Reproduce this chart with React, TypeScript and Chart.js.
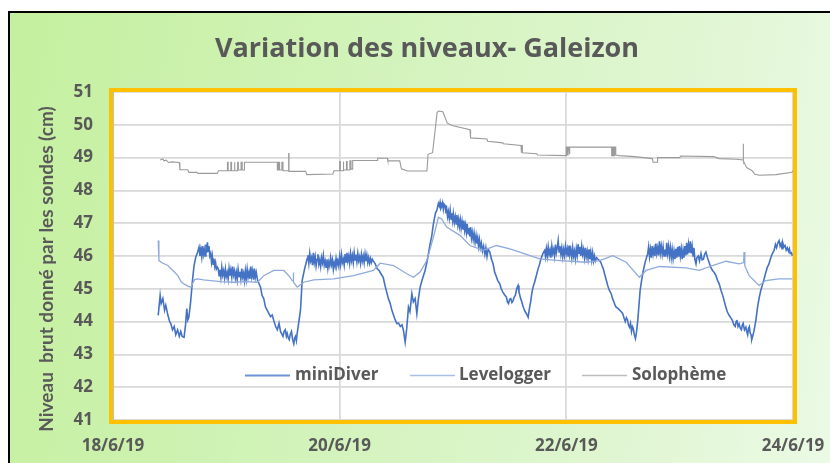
import React, { useEffect, useRef } from 'react';
import { Chart, registerables } from 'chart.js';

Chart.register(...registerables);

const chartTitle = 'Variation des niveaux- Galeizon';
const yAxisTitle = 'Niveau  brut donné par les sondes (cm)';
const dateLabels = ['18/6/19', '20/6/19', '22/6/19', '24/6/19'];
const seriesNames = ['miniDiver', 'Levelogger', 'Solophème'];
const yMin = 41;
const yMax = 51;

// [day since 18/6/19 00:00, level in cm]
const miniDiver: [number, number][] = [
  [0.399, 44.19], [0.416, 44.8], [0.425, 44.55], [0.44, 44.7], [0.455, 44.35], [0.466, 44.5], [0.484, 44.2],
  [0.5, 44.0], [0.51, 43.94], [0.525, 43.75], [0.54, 43.85], [0.554, 43.6], [0.57, 43.75], [0.585, 43.55],
  [0.598, 43.7], [0.61, 43.55], [0.627, 43.52], [0.64, 43.9], [0.651, 44.4], [0.66, 44.05], [0.669, 44.13],
  [0.685, 44.6], [0.701, 45.25], [0.715, 45.7], [0.73, 45.96], [0.745, 46.1], [0.759, 46.27], [0.767, 46.0],
  [0.775, 46.2], [0.783, 45.98], [0.79, 46.3], [0.798, 46.05], [0.805, 46.2], [0.812, 46.0], [0.82, 46.35],
  [0.827, 46.1], [0.833, 46.42], [0.84, 46.15], [0.847, 46.3], [0.854, 46.0], [0.862, 46.08], [0.869, 45.82],
  [0.876, 46.0], [0.883, 45.75], [0.89, 45.92], [0.898, 45.68], [0.905, 45.8], [0.912, 45.6], [0.921, 45.66],
  [0.928, 45.62], [0.936, 45.4], [0.944, 45.58], [0.952, 45.35], [0.96, 45.66], [0.968, 45.42], [0.976, 45.55],
  [0.984, 45.33], [0.992, 45.6], [1.0, 45.38], [1.008, 45.5], [1.016, 45.3], [1.024, 45.62], [1.032, 45.4],
  [1.04, 45.58], [1.048, 45.36], [1.056, 45.68], [1.064, 45.42], [1.072, 45.55], [1.08, 45.32], [1.088, 45.5],
  [1.096, 45.28], [1.104, 45.6], [1.112, 45.38], [1.12, 45.52], [1.128, 45.3], [1.136, 45.62], [1.144, 45.36],
  [1.152, 45.48], [1.16, 45.25], [1.168, 45.55], [1.176, 45.3], [1.184, 45.6], [1.192, 45.35], [1.2, 45.5],
  [1.208, 45.3], [1.216, 45.68], [1.224, 45.38], [1.232, 45.55], [1.24, 45.28], [1.248, 45.62], [1.256, 45.35],
  [1.264, 45.5], [1.276, 45.25], [1.302, 45.05], [1.315, 44.8], [1.33, 44.7], [1.345, 44.45], [1.361, 44.34],
  [1.375, 44.25], [1.39, 44.15], [1.405, 44.2], [1.419, 44.03], [1.435, 43.85], [1.45, 43.75], [1.465, 43.95],
  [1.478, 43.7], [1.49, 43.62], [1.5, 43.55], [1.51, 43.7], [1.52, 43.75], [1.53, 43.55], [1.537, 43.64],
  [1.547, 43.5], [1.555, 43.45], [1.565, 43.62], [1.575, 43.7], [1.585, 43.45], [1.595, 43.32], [1.603, 43.5],
  [1.61, 43.55], [1.618, 43.42], [1.625, 43.64], [1.64, 44.0], [1.654, 44.34], [1.669, 45.25], [1.69, 45.6],
  [1.705, 45.8], [1.713, 45.92], [1.72, 46.02], [1.728, 45.78], [1.736, 46.08], [1.744, 45.85], [1.752, 45.95],
  [1.76, 45.72], [1.768, 46.1], [1.776, 45.8], [1.784, 45.98], [1.792, 45.7], [1.8, 45.9], [1.808, 46.05],
  [1.816, 45.75], [1.824, 45.88], [1.832, 45.68], [1.84, 45.95], [1.848, 45.8], [1.856, 46.02], [1.864, 45.72],
  [1.872, 45.85], [1.88, 45.66], [1.888, 45.9], [1.896, 45.62], [1.904, 45.82], [1.912, 45.7], [1.92, 45.95],
  [1.928, 45.74], [1.936, 45.88], [1.944, 45.6], [1.952, 45.8], [1.96, 45.68], [1.968, 45.92], [1.976, 45.72],
  [1.984, 45.85], [1.992, 45.7], [2.0, 45.98], [2.008, 45.75], [2.016, 46.04], [2.024, 45.8], [2.032, 45.9],
  [2.04, 45.72], [2.048, 46.06], [2.056, 45.82], [2.064, 46.1], [2.072, 45.85], [2.08, 46.0], [2.088, 45.78],
  [2.096, 46.08], [2.104, 45.86], [2.112, 46.02], [2.12, 45.8], [2.128, 46.1], [2.136, 45.88], [2.144, 46.04],
  [2.152, 45.82], [2.16, 46.08], [2.168, 45.86], [2.176, 45.98], [2.184, 45.78], [2.192, 46.05], [2.2, 45.85],
  [2.208, 46.0], [2.216, 45.8], [2.224, 46.06], [2.232, 45.84], [2.24, 46.02], [2.248, 45.8], [2.256, 45.95],
  [2.264, 45.78], [2.272, 45.92], [2.28, 45.8], [2.288, 45.9], [2.296, 45.85], [2.314, 45.76], [2.33, 45.62],
  [2.35, 45.55], [2.365, 45.45], [2.384, 45.35], [2.4, 45.1], [2.415, 44.9], [2.43, 44.7], [2.446, 44.55],
  [2.46, 44.35], [2.475, 44.2], [2.49, 44.05], [2.505, 43.94], [2.52, 43.95], [2.535, 43.85], [2.55, 43.9],
  [2.563, 43.73], [2.578, 43.37], [2.592, 43.8], [2.607, 44.44], [2.62, 44.3], [2.637, 44.85], [2.65, 44.6],
  [2.666, 44.7], [2.681, 44.24], [2.695, 44.7], [2.71, 45.05], [2.73, 45.3], [2.754, 45.56], [2.775, 45.9],
  [2.798, 46.37], [2.812, 46.6], [2.827, 46.98], [2.845, 47.3], [2.857, 47.39], [2.871, 47.6], [2.879, 47.52],
  [2.886, 47.64], [2.893, 47.45], [2.9, 47.5], [2.908, 47.62], [2.915, 47.42], [2.922, 47.58], [2.93, 47.54],
  [2.938, 47.3], [2.945, 47.42], [2.952, 47.2], [2.959, 47.35], [2.967, 47.15], [2.975, 47.4], [2.983, 47.12],
  [2.99, 47.3], [2.997, 47.08], [3.003, 47.29], [3.012, 47.02], [3.02, 47.2], [3.028, 46.98], [3.035, 47.25],
  [3.043, 46.95], [3.05, 47.12], [3.057, 46.9], [3.065, 47.1], [3.072, 46.85], [3.08, 47.05], [3.088, 46.8],
  [3.095, 47.08], [3.103, 46.78], [3.11, 46.95], [3.118, 46.72], [3.125, 46.98], [3.133, 46.68], [3.14, 46.85],
  [3.148, 46.6], [3.155, 46.88], [3.163, 46.55], [3.17, 46.72], [3.178, 46.5], [3.186, 46.7], [3.195, 46.42],
  [3.203, 46.62], [3.21, 46.38], [3.218, 46.55], [3.225, 46.3], [3.233, 46.5], [3.241, 46.25], [3.25, 46.4],
  [3.26, 46.15], [3.27, 46.3], [3.281, 46.05], [3.29, 46.25], [3.3, 45.98], [3.31, 46.2], [3.325, 46.12],
  [3.34, 45.9], [3.354, 45.76], [3.368, 45.5], [3.38, 45.4], [3.395, 45.25], [3.413, 45.15], [3.425, 45.0],
  [3.44, 44.9], [3.455, 44.82], [3.472, 44.74], [3.48, 44.6], [3.49, 44.55], [3.5, 44.68], [3.51, 44.7],
  [3.52, 44.58], [3.53, 44.64], [3.54, 44.75], [3.55, 44.8], [3.562, 45.0], [3.574, 45.1], [3.582, 44.9],
  [3.59, 44.8], [3.597, 44.7], [3.604, 44.64], [3.615, 44.5], [3.625, 44.4], [3.637, 44.3], [3.648, 44.24],
  [3.656, 44.18], [3.663, 44.13], [3.672, 44.35], [3.685, 44.6], [3.695, 44.85], [3.706, 45.05], [3.72, 45.2],
  [3.735, 45.4], [3.75, 45.6], [3.765, 45.76], [3.775, 45.9], [3.785, 46.0], [3.797, 46.1], [3.809, 46.17],
  [3.816, 45.98], [3.824, 46.22], [3.832, 46.0], [3.84, 46.28], [3.848, 46.05], [3.856, 46.18], [3.864, 45.95],
  [3.872, 46.3], [3.88, 46.08], [3.888, 46.2], [3.896, 46.0], [3.904, 46.35], [3.912, 46.1], [3.92, 46.25],
  [3.928, 46.47], [3.936, 46.12], [3.944, 46.3], [3.952, 46.05], [3.96, 46.25], [3.968, 45.98], [3.976, 46.2],
  [3.984, 46.02], [3.992, 46.3], [4.0, 46.08], [4.008, 46.22], [4.016, 45.98], [4.024, 46.32], [4.032, 46.05],
  [4.04, 46.18], [4.048, 45.95], [4.056, 46.25], [4.064, 46.0], [4.072, 46.15], [4.08, 45.92], [4.088, 46.22],
  [4.096, 46.02], [4.104, 46.36], [4.112, 46.08], [4.12, 46.28], [4.128, 46.0], [4.136, 46.3], [4.144, 46.05],
  [4.152, 46.2], [4.16, 45.95], [4.168, 46.25], [4.176, 45.98], [4.184, 46.15], [4.192, 45.92], [4.2, 46.2],
  [4.208, 45.9], [4.216, 46.12], [4.224, 45.88], [4.232, 46.1], [4.24, 45.85], [4.248, 46.0], [4.256, 45.85],
  [4.267, 45.95], [4.28, 45.9], [4.293, 45.86], [4.305, 45.8], [4.315, 45.7], [4.327, 45.6], [4.337, 45.46],
  [4.35, 45.3], [4.365, 45.1], [4.38, 44.95], [4.396, 44.85], [4.408, 44.7], [4.42, 44.6], [4.43, 44.5],
  [4.44, 44.44], [4.455, 44.4], [4.47, 44.35], [4.485, 44.3], [4.498, 44.24], [4.51, 44.1], [4.52, 44.0],
  [4.53, 44.12], [4.54, 44.05], [4.548, 43.9], [4.557, 43.83], [4.566, 43.95], [4.575, 43.7], [4.583, 43.85],
  [4.59, 43.8], [4.6, 43.6], [4.61, 43.48], [4.62, 43.7], [4.63, 44.03], [4.641, 44.5], [4.651, 44.95],
  [4.662, 45.2], [4.674, 45.46], [4.685, 45.65], [4.695, 45.8], [4.707, 45.95], [4.718, 46.07], [4.726, 46.28],
  [4.734, 45.98], [4.742, 46.2], [4.75, 45.95], [4.758, 46.3], [4.766, 46.05], [4.774, 46.22], [4.782, 46.0],
  [4.79, 46.38], [4.798, 46.08], [4.806, 46.25], [4.814, 46.02], [4.822, 46.45], [4.83, 46.1], [4.838, 46.3],
  [4.846, 46.05], [4.854, 46.28], [4.862, 46.0], [4.87, 46.2], [4.878, 45.98], [4.886, 46.4], [4.894, 46.08],
  [4.902, 46.3], [4.91, 46.0], [4.918, 46.25], [4.926, 45.95], [4.934, 46.2], [4.942, 45.92], [4.95, 46.15],
  [4.958, 45.9], [4.966, 46.22], [4.974, 45.95], [4.982, 46.28], [4.99, 45.98], [4.998, 46.3], [5.006, 46.0],
  [5.014, 46.22], [5.022, 45.9], [5.03, 46.18], [5.038, 45.95], [5.046, 46.3], [5.054, 46.02], [5.062, 46.4],
  [5.07, 46.05], [5.078, 46.35], [5.086, 46.1], [5.094, 46.45], [5.102, 46.08], [5.11, 46.3], [5.118, 46.0],
  [5.126, 46.25], [5.134, 45.9], [5.144, 45.76], [5.152, 45.95], [5.165, 46.0], [5.175, 45.85], [5.188, 46.07],
  [5.198, 45.88], [5.21, 45.9], [5.22, 46.05], [5.232, 46.12], [5.245, 45.95], [5.26, 45.8], [5.275, 45.65],
  [5.29, 45.56], [5.305, 45.5], [5.32, 45.4], [5.335, 45.25], [5.349, 45.15], [5.365, 44.95], [5.38, 44.8],
  [5.395, 44.6], [5.408, 44.44], [5.42, 44.3], [5.435, 44.2], [5.45, 44.12], [5.466, 44.03], [5.478, 43.9],
  [5.49, 43.85], [5.498, 44.0], [5.505, 44.05], [5.515, 43.85], [5.525, 43.93], [5.535, 43.8], [5.545, 43.75],
  [5.553, 43.9], [5.56, 43.95], [5.572, 43.75], [5.584, 43.83], [5.592, 43.7], [5.6, 43.6], [5.608, 43.8],
  [5.615, 43.85], [5.622, 43.65], [5.63, 43.6], [5.636, 43.45], [5.642, 43.52], [5.655, 43.7], [5.672, 44.03],
  [5.68, 44.25], [5.69, 44.5], [5.703, 44.75], [5.716, 44.95], [5.73, 45.12], [5.745, 45.3], [5.76, 45.5],
  [5.774, 45.66], [5.787, 45.75], [5.8, 45.9], [5.815, 46.05], [5.833, 46.17], [5.845, 46.35], [5.855, 46.25],
  [5.866, 46.4], [5.877, 46.47], [5.886, 46.3], [5.895, 46.38], [5.903, 46.22], [5.91, 46.4], [5.92, 46.28],
  [5.93, 46.32], [5.94, 46.18], [5.95, 46.25], [5.96, 46.15], [5.968, 46.22], [5.975, 46.08], [5.985, 46.1],
  [5.994, 46.01],
];

const levelogger: [number, number][] = [
  [0.399, 46.47], [0.405, 45.86], [0.44, 45.78], [0.484, 45.71], [0.51, 45.62], [0.54, 45.52], [0.572, 45.4],
  [0.6, 45.22], [0.625, 45.15], [0.66, 45.08], [0.688, 45.05], [0.7, 45.15], [0.72, 45.28], [0.747, 45.3],
  [0.8, 45.27], [0.862, 45.25], [0.95, 45.22], [1.067, 45.2], [1.17, 45.22], [1.276, 45.2], [1.33, 45.4],
  [1.419, 45.56], [1.507, 45.56], [1.551, 45.4], [1.581, 45.25], [1.59, 45.25], [1.59, 45.5], [1.595, 45.2],
  [1.625, 45.05], [1.683, 45.2], [1.771, 45.27], [1.947, 45.3], [2.123, 45.4], [2.298, 45.56], [2.357, 45.78],
  [2.475, 45.71], [2.593, 45.46], [2.651, 45.35], [2.71, 45.51], [2.769, 45.86], [2.827, 46.57], [2.871, 47.18],
  [2.9, 47.13], [2.944, 46.88], [3.062, 46.63], [3.149, 46.32], [3.267, 46.17], [3.384, 46.32], [3.501, 46.22],
  [3.589, 46.12], [3.765, 45.91], [3.941, 45.86], [4.176, 45.81], [4.293, 45.86], [4.41, 46.01], [4.528, 45.81],
  [4.645, 45.35], [4.704, 45.56], [4.821, 45.68], [5.056, 45.64], [5.173, 45.56], [5.29, 45.71], [5.408, 45.84],
  [5.525, 45.76], [5.565, 45.8], [5.568, 46.12], [5.575, 45.7], [5.613, 45.4], [5.701, 45.1], [5.76, 45.25],
  [5.877, 45.3], [5.994, 45.3],
];

const solopheme: [number, number][] = [
  [0.416, 48.93], [0.44, 48.96], [0.45, 48.9], [0.47, 48.92], [0.49, 48.85], [0.52, 48.87], [0.585, 48.85],
  [0.59, 48.63], [0.66, 48.63], [0.67, 48.55], [0.74, 48.55], [0.75, 48.52], [0.92, 48.52], [0.93, 48.6],
  [1.01, 48.6], [1.01, 48.86], [1.016, 48.86], [1.016, 48.6], [1.04, 48.6], [1.04, 48.86], [1.046, 48.86],
  [1.046, 48.6], [1.07, 48.6], [1.07, 48.86], [1.076, 48.86], [1.076, 48.6], [1.1, 48.6], [1.1, 48.86],
  [1.106, 48.86], [1.106, 48.62], [1.13, 48.62], [1.13, 48.86], [1.14, 48.86], [1.14, 48.62], [1.16, 48.62],
  [1.16, 48.86], [1.45, 48.86], [1.45, 48.62], [1.46, 48.62], [1.46, 48.86], [1.47, 48.86], [1.47, 48.62],
  [1.49, 48.62], [1.49, 48.86], [1.5, 48.86], [1.5, 48.6], [1.55, 48.6], [1.55, 49.12], [1.553, 49.12],
  [1.553, 48.58], [1.7, 48.58], [1.71, 48.48], [1.94, 48.5], [1.95, 48.6], [2.0, 48.6], [2.0, 48.88],
  [2.006, 48.88], [2.006, 48.6], [2.03, 48.6], [2.03, 48.88], [2.036, 48.88], [2.036, 48.62], [2.06, 48.62],
  [2.06, 48.88], [2.066, 48.88], [2.066, 48.62], [2.09, 48.62], [2.09, 48.9], [2.1, 48.9], [2.1, 48.65],
  [2.115, 48.65], [2.115, 48.91], [2.33, 48.91], [2.335, 48.98], [2.42, 48.98], [2.425, 48.9], [2.53, 48.9],
  [2.545, 48.66], [2.6, 48.59], [2.77, 48.59], [2.78, 49.1], [2.82, 49.15], [2.86, 50.38], [2.875, 50.42],
  [2.91, 50.4], [2.95, 50.05], [3.0, 49.97], [3.15, 49.85], [3.155, 49.6], [3.3, 49.57], [3.305, 49.5],
  [3.44, 49.45], [3.445, 49.42], [3.6, 49.37], [3.6, 49.15], [3.606, 49.15], [3.606, 49.37], [3.612, 49.37],
  [3.612, 49.15], [3.74, 49.12], [3.745, 49.08], [4.0, 49.06], [4.0, 49.32], [4.008, 49.32], [4.008, 49.08],
  [4.016, 49.08], [4.016, 49.32], [4.024, 49.32], [4.024, 49.1], [4.032, 49.1], [4.032, 49.32], [4.4, 49.32],
  [4.4, 49.06], [4.408, 49.06], [4.408, 49.32], [4.416, 49.32], [4.416, 49.06], [4.426, 49.06], [4.426, 49.32],
  [4.436, 49.32], [4.436, 49.08], [4.47, 49.06], [4.6, 49.03], [4.76, 48.97], [4.765, 48.86], [4.8, 48.86],
  [4.805, 49.0], [5.0, 49.0], [5.01, 49.05], [5.3, 49.03], [5.35, 48.97], [5.5, 48.95], [5.56, 48.93],
  [5.56, 49.42], [5.563, 49.42], [5.563, 48.9], [5.59, 48.7], [5.64, 48.6], [5.66, 48.5], [5.7, 48.46],
  [5.85, 48.48], [5.99, 48.55], [6.0, 48.6],
];

const seriesColors = ['#4472C4', '#8FAADC', '#9A9A9A'];
const legendColors = ['#6E93D6', '#A9C0E8', '#BDBDBD'];
const textGrey = '#595959';

const toXY = (pts: [number, number][]) => pts.map(([x, y]) => ({ x, y }));

const decorPlugin = {
  id: 'decor',
  beforeDraw(chart: any) {
    const { ctx, chartArea: a } = chart;
    ctx.save();
    ctx.fillStyle = '#ffffff';
    ctx.fillRect(a.left, a.top, a.right - a.left, a.bottom - a.top);
    ctx.restore();
  },
  afterDraw(chart: any) {
    const { ctx, chartArea: a } = chart;
    ctx.save();
    // plot-area frame
    ctx.strokeStyle = '#FFC000';
    ctx.lineWidth = 4;
    ctx.strokeRect(a.left - 2, a.top - 2, a.right - a.left + 4, a.bottom - a.top + 4);
    // title
    ctx.fillStyle = textGrey;
    ctx.font = 'bold 27px "Open Sans"';
    ctx.textAlign = 'center';
    ctx.textBaseline = 'alphabetic';
    ctx.fillText(chartTitle, 427, 57);
    // y-axis title
    ctx.save();
    ctx.translate(47, 269);
    ctx.rotate(-Math.PI / 2);
    ctx.font = 'bold 19px Lato';
    ctx.textBaseline = 'middle';
    ctx.fillText(yAxisTitle, 0, 0);
    ctx.restore();
    // legend (overlaid inside the plot area)
    const items = [
      { x1: 245, x2: 290, tx: 295 },
      { x1: 410, x2: 455, tx: 459 },
      { x1: 582, x2: 627, tx: 632 },
    ];
    const ly = 375.5;
    ctx.font = 'bold 17px "Open Sans"';
    ctx.textAlign = 'left';
    ctx.textBaseline = 'middle';
    items.forEach((it, i) => {
      ctx.strokeStyle = legendColors[i];
      ctx.lineWidth = i === 0 ? 2 : 1.5;
      ctx.beginPath();
      ctx.moveTo(it.x1, ly);
      ctx.lineTo(it.x2, ly);
      ctx.stroke();
      ctx.fillStyle = textGrey;
      ctx.fillText(seriesNames[i], it.tx, ly);
    });
    ctx.restore();
  },
};

export default function App() {
  const canvasRef = useRef<HTMLCanvasElement | null>(null);

  useEffect(() => {
    const canvas = canvasRef.current;
    if (!canvas) return;
    const tickFont = { family: '"Open Sans"', weight: 'bold' as const, size: 17 };
    const chart = new Chart(canvas, {
      type: 'line',
      data: {
        datasets: [
          {
            label: seriesNames[0],
            data: toXY(miniDiver),
            borderColor: seriesColors[0],
            borderWidth: 1.6,
            pointRadius: 0,
            tension: 0,
            order: 3,
          },
          {
            label: seriesNames[1],
            data: toXY(levelogger),
            borderColor: seriesColors[1],
            borderWidth: 1.3,
            pointRadius: 0,
            tension: 0,
            order: 2,
          },
          {
            label: seriesNames[2],
            data: toXY(solopheme),
            borderColor: seriesColors[2],
            borderWidth: 1.1,
            pointRadius: 0,
            tension: 0,
            order: 1,
          },
        ],
      },
      options: {
        animation: false,
        responsive: false,
        devicePixelRatio: 1,
        layout: { padding: { left: 0, top: 92, right: 37, bottom: 0 } },
        plugins: {
          legend: { display: false },
          title: { display: false },
          tooltip: { enabled: false },
        },
        scales: {
          x: {
            type: 'linear',
            min: 0,
            max: 6,
            afterFit: (s: any) => {
              s.height = 43;
            },
            ticks: {
              stepSize: 2,
              autoSkip: false,
              maxRotation: 0,
              padding: 2,
              color: textGrey,
              font: tickFont,
              callback: (v: any) => dateLabels[Math.round(Number(v) / 2)] ?? '',
            },
            grid: {
              color: '#D9D9D9',
              lineWidth: 1.75,
              drawTicks: true,
              tickLength: 14,
              tickColor: 'rgba(0,0,0,0)',
            },
            border: { display: true, color: '#BFBFBF', width: 1 },
          },
          y: {
            type: 'linear',
            min: yMin,
            max: yMax,
            afterFit: (s: any) => {
              s.width = 113;
            },
            ticks: {
              stepSize: 1,
              padding: 20,
              color: textGrey,
              font: tickFont,
            },
            grid: { color: '#D9D9D9', lineWidth: 1.75, drawTicks: false },
            border: { display: true, color: '#BFBFBF', width: 1 },
          },
        },
      },
      plugins: [decorPlugin],
    });
    return () => chart.destroy();
  }, []);

  return (
    <div style={{ position: 'fixed', left: 0, top: 0, width: 830, height: 463, background: '#ffffff', overflow: 'hidden' }}>
      <div
        style={{
          position: 'absolute',
          left: 8,
          top: 11,
          width: 830,
          height: 460,
          borderTop: '2px solid #000',
          borderLeft: '2.5px solid #000',
          background: 'linear-gradient(100deg, #c4f09e 0%, #d2f3ba 40%, #e0f6d2 75%, #ebfae6 100%)',
        }}
      />
      <canvas
        ref={canvasRef}
        width={830}
        height={463}
        style={{ position: 'absolute', left: 0, top: 0, width: 830, height: 463 }}
      />
    </div>
  );
}
